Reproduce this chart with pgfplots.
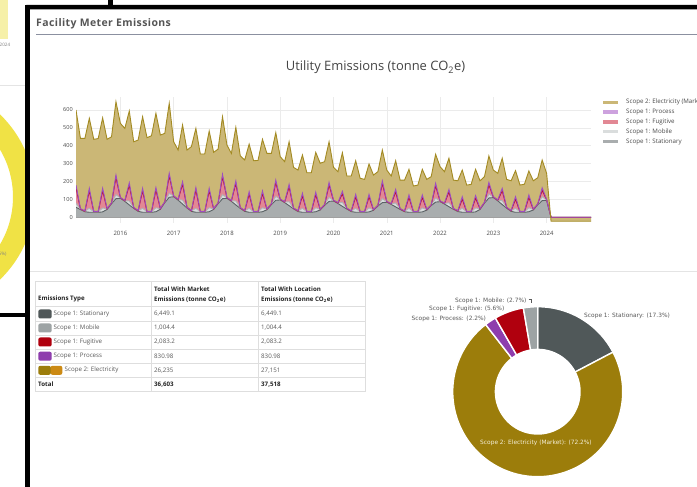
\documentclass[border=0pt]{standalone}
\usepackage{pgfplots}
\pgfplotsset{compat=1.18}
\usepackage{pgfplotstable}
\usepackage{fontspec}
\setmainfont{Open Sans}
\newfontfamily\verd{DejaVu Sans}
\newcommand{\fs}[1]{\fontsize{#1}{#1}\selectfont}

% series colours (plotly-like, fills at half strength)
\definecolor{statL}{HTML}{5A6265}
\definecolor{statF}{HTML}{A9ADAE}
\definecolor{mobL}{HTML}{AEB4B5}
\definecolor{mobF}{HTML}{DADDDD}
\definecolor{fugL}{HTML}{B8102A}
\definecolor{fugF}{HTML}{E28894}
\definecolor{proL}{HTML}{9D4DC2}
\definecolor{proF}{HTML}{CDA2DE}
\definecolor{eleL}{HTML}{A38A22}
\definecolor{eleF}{HTML}{CBB776}
% donut / table swatches
\definecolor{dStat}{HTML}{505859}
\definecolor{dMob}{HTML}{9DA3A4}
\definecolor{dFug}{HTML}{B0000E}
\definecolor{dPro}{HTML}{8E3DAD}
\definecolor{dEle}{HTML}{9C7D0B}
\definecolor{dEle2}{HTML}{CC8A14}
% page colours
\definecolor{gridC}{HTML}{EBEBEB}
\definecolor{zeroC}{HTML}{A0A0A0}
\definecolor{tickC}{HTML}{4A4A4A}
\definecolor{titC}{HTML}{555555}
\definecolor{ttlC}{HTML}{444444}
\definecolor{tblC}{HTML}{DEDEDE}
\definecolor{rowC}{HTML}{5A5A5A}
\definecolor{hdrC}{HTML}{222222}
\definecolor{ruleC}{HTML}{8B90A0}
\definecolor{sepC}{HTML}{E4E4E4}
\definecolor{yel}{HTML}{F0E245}
\definecolor{paleY}{HTML}{F6F0A8}
\definecolor{onGold}{HTML}{F4EFD8}

% monthly values, i = months since Mar 2015 (i=10 is Jan 2016)
% S stationary, M mobile, F fugitive, P process, E electricity (market)
\pgfplotstableread{
i S M F P E
0 56 22 88 14 420
1 43 3 0 2 393
2 31 3 0 2 405
3 28 22 98 14 391
4 28 3 0 2 403
5 28 3 0 2 407
6 30 22 96 14 394
7 44 3 0 2 387
8 76 3 0 2 369
9 104 22 96 14 410
10 106 3 0 2 414
11 89 3 0 2 403
12 69 22 88 14 401
13 50 3 0 2 367
14 33 3 0 2 394
15 28 22 98 14 400
16 28 3 0 2 412
17 28 3 0 2 423
18 31 22 99 14 415
19 45 3 0 2 410
20 82 3 0 2 382
21 112 22 98 14 391
22 115 3 0 2 302
23 96 3 0 2 275
24 74 22 89 14 317
25 52 3 0 2 319
26 33 3 0 2 357
27 28 22 102 14 331
28 28 3 0 2 321
29 28 3 0 2 321
30 31 22 95 14 320
31 44 3 0 2 314
32 76 3 0 2 300
33 104 22 100 14 322
34 106 3 0 2 293
35 89 3 0 2 263
36 69 22 98 14 300
37 50 3 0 2 289
38 33 3 0 2 282
39 28 22 79 14 266
40 28 3 0 2 283
41 28 3 0 2 285
42 31 22 80 14 289
43 42 3 0 2 310
44 71 3 0 2 281
45 95 22 77 14 265
46 97 3 0 2 237
47 82 3 0 2 224
48 65 22 83 14 238
49 47 3 0 2 227
50 32 3 0 2 227
51 28 22 70 14 214
52 28 3 0 2 216
53 28 3 0 2 216
54 31 22 73 14 223
55 41 3 0 2 256
56 67 3 0 2 239
57 89 22 70 14 227
58 91 3 0 2 183
59 77 3 0 2 173
60 61 22 48 14 216
61 46 3 0 2 180
62 32 3 0 2 194
63 28 22 64 14 188
64 28 3 0 2 185
65 28 3 0 2 179
66 30 22 62 14 170
67 39 3 0 2 192
68 63 3 0 2 187
69 82 22 85 14 173
70 84 3 0 2 175
71 72 3 0 2 154
72 58 22 62 14 160
73 44 3 0 2 159
74 31 3 0 2 172
75 28 22 61 14 143
76 28 3 0 2 142
77 28 3 0 2 147
78 30 22 59 14 143
79 40 3 0 2 167
80 65 3 0 2 157
81 85 22 69 14 162
82 87 3 0 2 191
83 74 3 0 2 176
84 59 22 61 14 174
85 45 3 0 2 158
86 32 3 0 2 167
87 28 22 51 14 149
88 28 3 0 2 147
89 28 3 0 2 151
90 30 22 55 14 147
91 44 3 0 2 155
92 79 3 0 2 143
93 108 22 51 14 148
94 110 3 0 2 149
95 92 3 0 2 149
96 71 22 55 14 168
97 51 3 0 2 156
98 33 3 0 2 166
99 28 22 51 14 146
100 28 3 0 2 147
101 28 3 0 2 152
102 31 22 58 14 134
103 41 3 0 2 158
104 70 3 0 2 146
105 93 22 36 14 155
106 95 3 0 2 146
107 0 0 0 0 -22
116 0 0 0 0 -22
}\meters
% running sums for the stacked areas
\pgfplotstablecreatecol[expr={\thisrow{S}+\thisrow{M}}]{cM}\meters
\pgfplotstablecreatecol[expr={\thisrow{cM}+\thisrow{F}}]{cF}\meters
\pgfplotstablecreatecol[expr={\thisrow{cF}+\thisrow{P}}]{cP}\meters
\pgfplotstablecreatecol[expr={\thisrow{cP}+\thisrow{E}}]{cE}\meters

\newcommand{\cell}[3]{\node[anchor=west,inner sep=0pt,font=\fs{6.2},text=rowC] at (#1,#2) {#3};}
\newcommand{\hcell}[3]{\node[anchor=west,inner sep=0pt,font=\bfseries\fs{6.2},text=hdrC] at (#1,#2) {#3};}
\newcommand{\dlab}[3]{\node[anchor=west,inner sep=0pt,font=\verd\fs{5.9},text=#3] at (#1) {#2};}

\begin{document}
\begin{tikzpicture}[x=1bp,y=1bp]
\useasboundingbox (0,0) rectangle (697,487);
\clip (0,0) rectangle (697,487);
\fill[white] (0,0) rectangle (697,487);

% yellow donut of the dashboard behind (y upwards here)
\begin{scope}
\clip (0,174) rectangle (25.5,487);
\fill[yel, even odd rule] (-80,290) circle[radius=115bp] (-80,290) circle[radius=93bp];
\end{scope}

% everything in this scope uses screen coordinates (y downwards)
\begin{scope}[y=-1bp, shift={(0,-487)}]
\fill[paleY] (0,0) rectangle (7.5,39);
\node[anchor=west,inner sep=0pt,font=\fs{4.6},text=gray] at (-0.5,45) {2024};
\draw[sepC, line width=0.6bp] (0,85) -- (25,85);
\node[anchor=west,inner sep=0pt,font=\fs{4.6},text=gray] at (-1.5,254) {5\%)};
\fill[black] (0,313) rectangle (25,317);
\fill[black] (107.5,0) rectangle (112.5,5.5);
\fill[black, rounded corners=1.5bp] (25,5) rectangle (720,9.5);
\fill[black] (25,5) rectangle (30,490);

% panel header
\node[anchor=west,inner sep=0pt,text=titC,
  font=\bfseries\fs{10.5}\addfontfeatures{LetterSpace=4}] at (36,24) {Facility Meter Emissions};
\draw[ruleC, line width=0.8bp] (36,34.5) -- (697,34.5);
\node[inner sep=0pt,font=\fs{13},text=ttlC] at (375.5,67.5) {Utility Emissions (tonne CO\textsubscript{2}e)};
\draw[sepC, line width=0.6bp] (30,271) -- (697,271);

% table
\draw[tblC, line width=0.6bp] (35.7,281) rectangle (365,391.7);
\foreach \yy in {306.7,321,335,349,363.3,377.3}
  \draw[tblC, line width=0.6bp] (35.7,\yy) -- (365,\yy);
\foreach \xx in {151,258.3}
  \draw[tblC, line width=0.6bp] (\xx,281) -- (\xx,391.7);
\hcell{38}{299}{Emissions Type}
\hcell{154}{289}{Total With Market}
\hcell{154}{299.5}{Emissions (tonne CO\textsubscript{2}e)}
\hcell{261}{289}{Total With Location}
\hcell{261}{299.5}{Emissions (tonne CO\textsubscript{2}e)}
\fill[dStat, rounded corners=2bp] (38.3,309.5) rectangle (51.7,318.5);
\fill[dMob,  rounded corners=2bp] (38.3,323.5) rectangle (51.7,332.5);
\fill[dFug,  rounded corners=2bp] (38.3,337.5) rectangle (51.7,346.5);
\fill[dPro,  rounded corners=2bp] (38.3,351.7) rectangle (51.7,360.7);
\fill[dEle,  rounded corners=2bp] (38.3,365.8) rectangle (50.9,374.8);
\fill[dEle2, rounded corners=2bp] (50.5,365.8) rectangle (62.3,374.8);
\cell{53.5}{314}{Scope 1: Stationary}
\cell{53.5}{328}{Scope 1: Mobile}
\cell{53.5}{342}{Scope 1: Fugitive}
\cell{53.5}{356.2}{Scope 1: Process}
\cell{64.5}{370.3}{Scope 2: Electricity}
\cell{154}{314}{6,449.1}   \cell{261}{314}{6,449.1}
\cell{154}{328}{1,004.4}   \cell{261}{328}{1,004.4}
\cell{154}{342}{2,083.2}   \cell{261}{342}{2,083.2}
\cell{154}{356.2}{830.98}  \cell{261}{356.2}{830.98}
\cell{154}{370.3}{26,235}  \cell{261}{370.3}{27,151}
\hcell{38}{384.5}{Total}
\hcell{154}{384.5}{36,603}
\hcell{261}{384.5}{37,518}

% donut labels outside the ring
\dlab{584,316}{Scope 1: Stationary: (17.3\%)}{rowC}
\dlab{455,300.5}{Scope 1: Mobile: (2.7\%)}{rowC}
\dlab{429,308.5}{Scope 1: Fugitive: (5.6\%)}{rowC}
\dlab{411.5,318.8}{Scope 1: Process: (2.2\%)}{rowC}
\draw[rowC, line width=0.4bp] (528.5,298.8) -- (531.5,298.8) -- (531.5,303);
\end{scope}

% utility emissions, stacked areas
\begin{axis}[
  at={(76bp,264.34bp)}, anchor=south west,
  scale only axis, width=515bp, height=125.2bp,
  xmin=0, xmax=116, ymin=-30, ymax=670,
  axis line style={draw=none}, major tick length=0pt,
  xtick={10,22,34,46,58,70,82,94,106},
  xticklabels={2016,2017,2018,2019,2020,2021,2022,2023,2024},
  ytick={0,100,200,300,400,500,600},
  grid=major, major grid style={draw=gridC, line width=0.5bp},
  /pgf/number format/assume math mode=true,
  yticklabel style={font=\fs{5.6}, text=tickC, inner sep=0pt, xshift=-3bp},
  xticklabel style={font=\fs{6}, text=tickC, inner sep=0pt, yshift=-8bp},
  legend style={at={(rel axis cs:1,1)}, anchor=north west, xshift=12bp, yshift=-2bp,
    draw=none, fill=none, inner sep=0pt, font=\fs{6.2}, text=tickC, row sep=4.9bp,
    nodes={inner sep=0pt, text height=4bp, text depth=1bp}},
  legend cell align=left,
  legend image code/.code={\fill (0bp,-1.6bp) rectangle (15bp,1.6bp); \path (23bp,0bp);},
]
\addplot[draw=none, fill=eleF] table[x=i, y=cE] {\meters} \closedcycle;
\addlegendentry{Scope 2: Electricity (Market)}
\addplot[draw=none, fill=proF] table[x=i, y=cP] {\meters} \closedcycle;
\addlegendentry{Scope 1: Process}
\addplot[draw=none, fill=fugF] table[x=i, y=cF] {\meters} \closedcycle;
\addlegendentry{Scope 1: Fugitive}
\addplot[draw=none, fill=mobF] table[x=i, y=cM] {\meters} \closedcycle;
\addlegendentry{Scope 1: Mobile}
\addplot[draw=none, fill=statF] table[x=i, y=S] {\meters} \closedcycle;
\addlegendentry{Scope 1: Stationary}
\draw[zeroC, line width=0.6bp] (axis cs:0,0) -- (axis cs:116,0);
\addplot[statL, line width=0.9bp, forget plot] table[x=i, y=S] {\meters};
\addplot[mobL, line width=0.9bp, forget plot] table[x=i, y=cM] {\meters};
\addplot[fugL, line width=0.9bp, forget plot] table[x=i, y=cF] {\meters};
\addplot[proL, line width=0.9bp, forget plot] table[x=i, y=cP] {\meters};
\addplot[eleL, line width=0.9bp, forget plot] table[x=i, y=cE] {\meters};
\end{axis}

% donut: shares 17.3, 72.2, 2.2, 5.6, 2.7 % clockwise from the top
\begin{axis}[
  at={(537.7bp,95.3bp)}, anchor=center,
  x=1bp, y=1bp, xmin=-86, xmax=86, ymin=-86, ymax=86,
  hide axis, clip=false,
]
\addplot[fill=dStat, draw=white, line width=1.4bp, data cs=polar, domain=27.72:90, samples=30] {85} -- (axis cs:0,0) -- cycle;
\addplot[fill=dEle, draw=white, line width=1.4bp, data cs=polar, domain=-232.2:27.72, samples=100] {85} -- (axis cs:0,0) -- cycle;
\addplot[fill=dPro, draw=white, line width=1.4bp, data cs=polar, domain=-240.12:-232.2, samples=6] {85} -- (axis cs:0,0) -- cycle;
\addplot[fill=dFug, draw=white, line width=1.4bp, data cs=polar, domain=-260.28:-240.12, samples=10] {85} -- (axis cs:0,0) -- cycle;
\addplot[fill=dMob, draw=white, line width=1.4bp, data cs=polar, domain=-270:-260.28, samples=6] {85} -- (axis cs:0,0) -- cycle;
\addplot[fill=white, draw=none, data cs=polar, domain=0:360, samples=120] {43} -- cycle;
\end{axis}
% label that sits on the gold slice
\node[anchor=west,inner sep=0pt,font=\verd\fs{5.9},text=onGold] at (480,44.3) {Scope 2: Electricity (Market): (72.2\%)};
\end{tikzpicture}
\end{document}
